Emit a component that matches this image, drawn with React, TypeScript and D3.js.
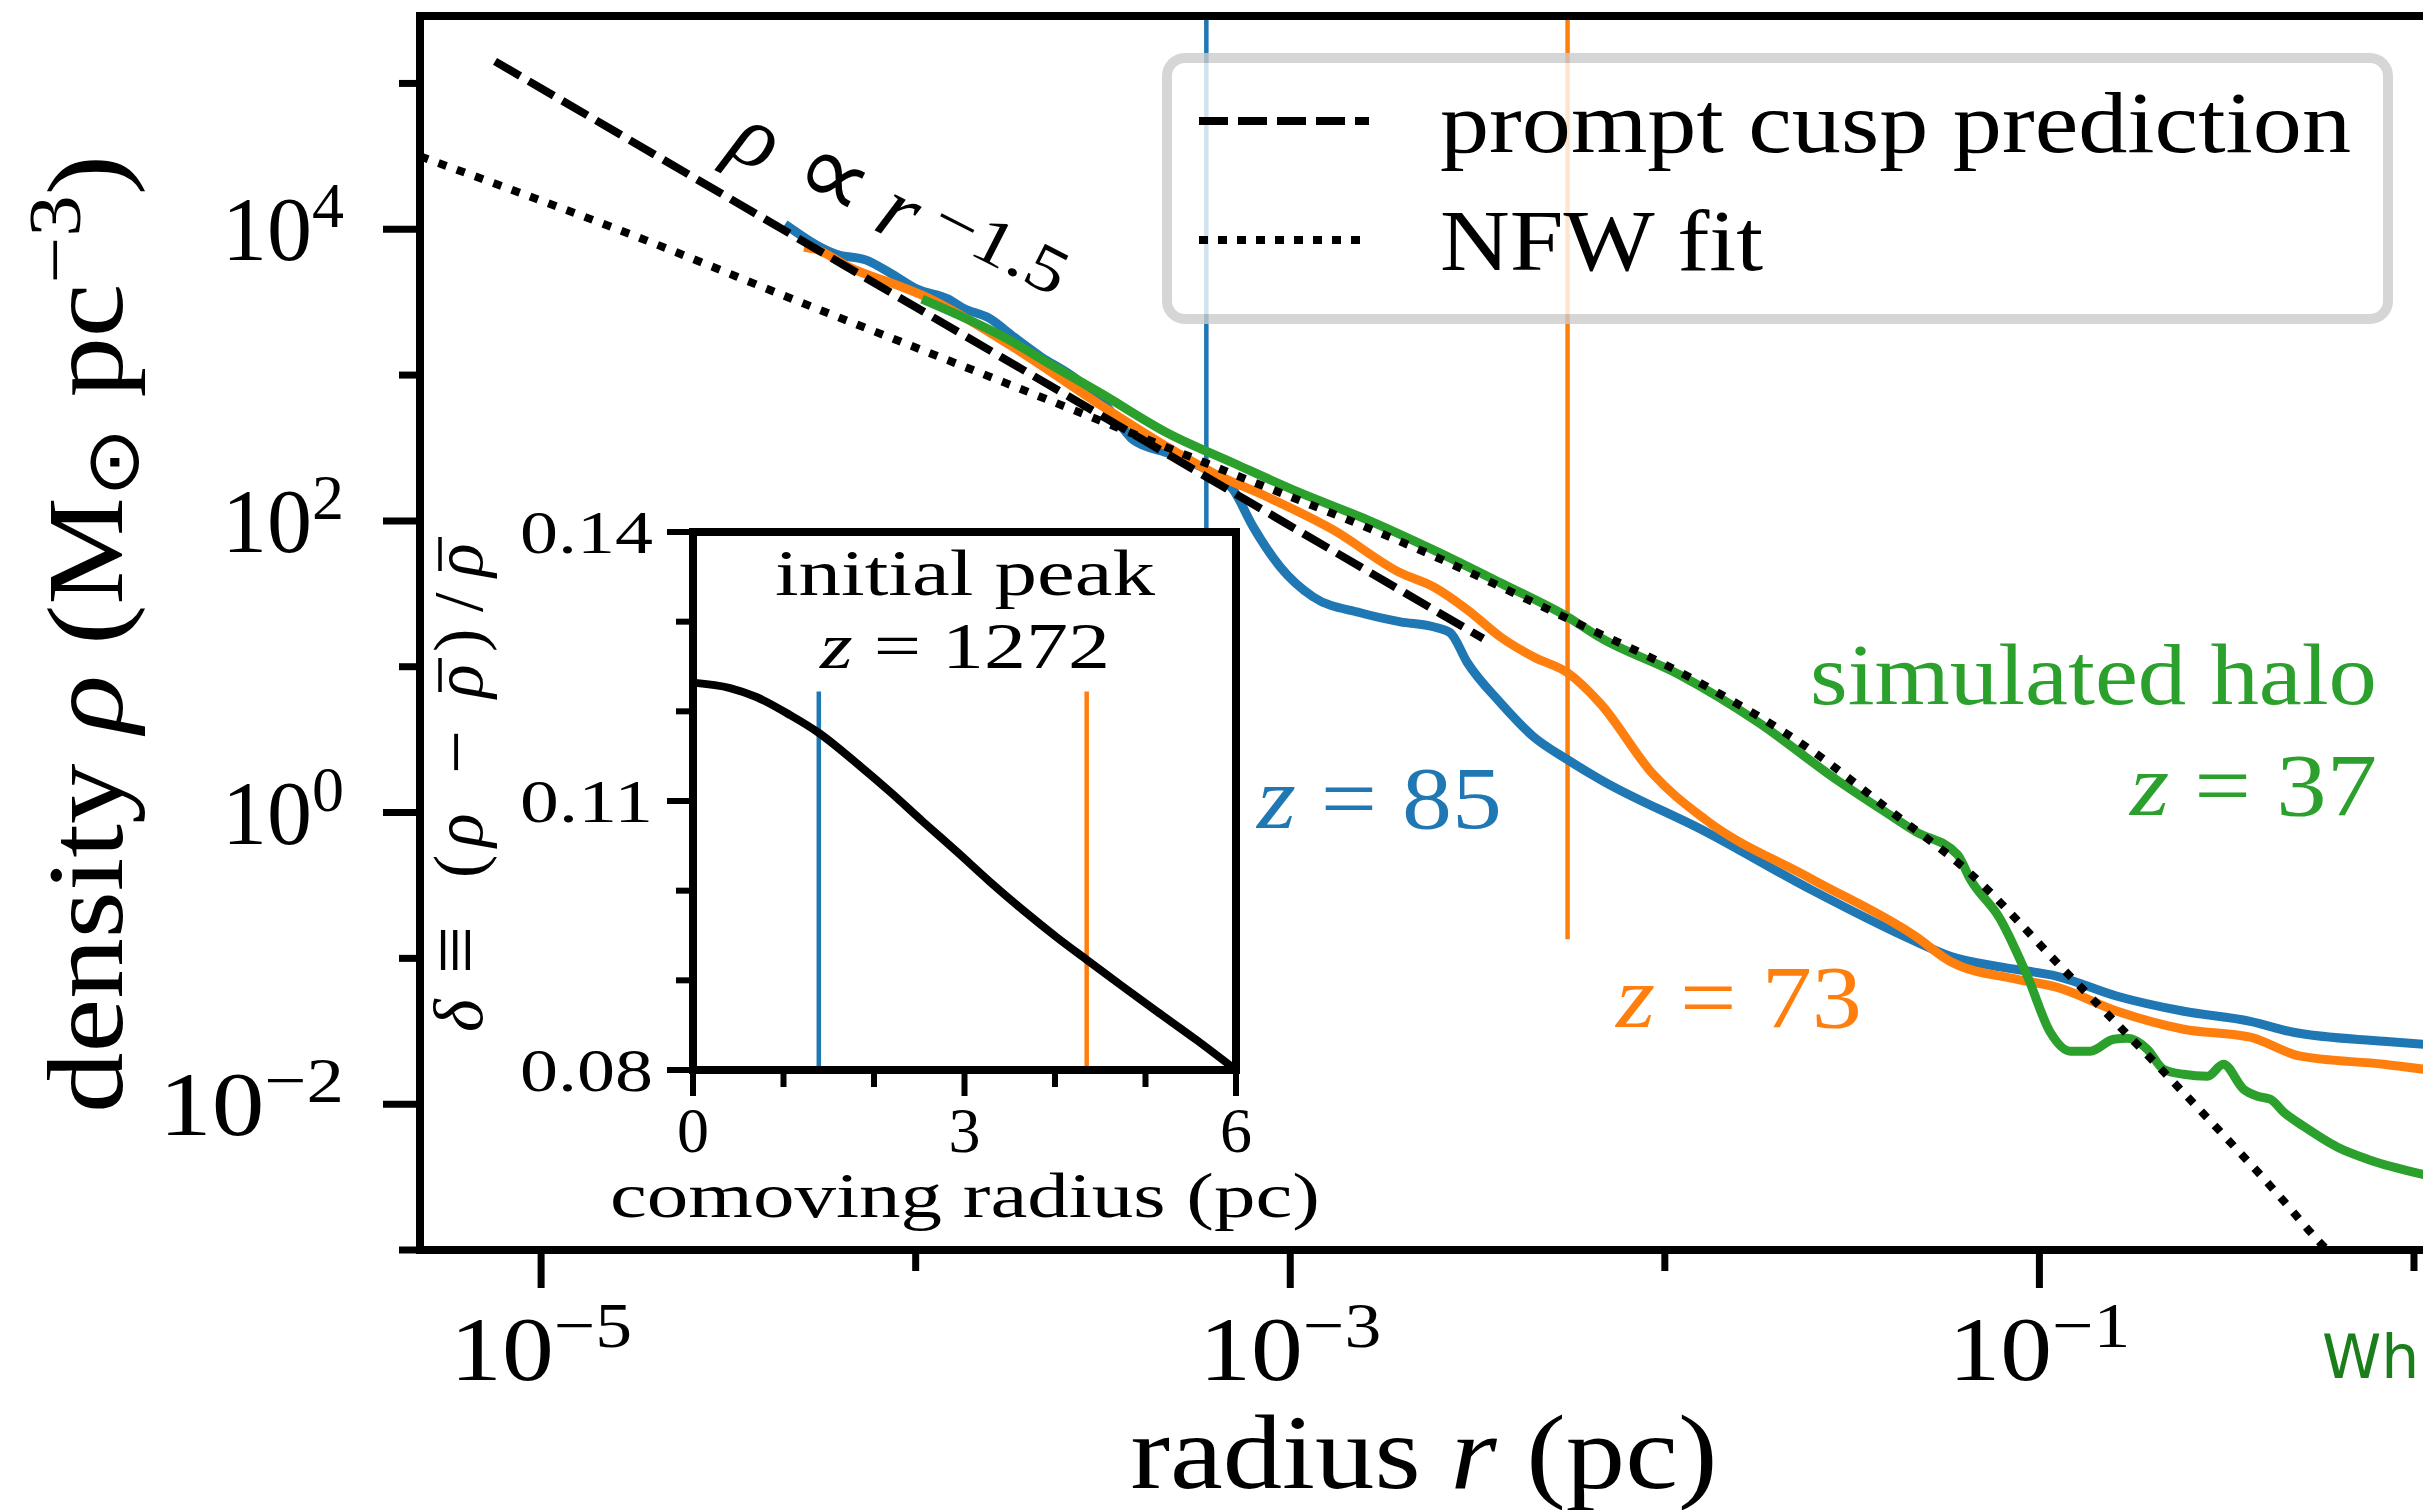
import React from "react";
import * as d3 from "d3";

const SERIF = "'Liberation Serif', 'Times New Roman', serif";
const W = 2423;
const H = 1510;

// ---------- main axes ----------
const xDomain = [4.75e-6, 1.09];
const yDomain = [1e-3, 2.9e5];
const xMajorTicks = [1e-5, 1e-3, 1e-1];
const xMajorExp = ["−5", "−3", "−1"];
const xMinorTicks = [1e-4, 1e-2, 1];
const yMajorTicks = [1e4, 1e2, 1, 1e-2];
const yMajorExp = ["4", "2", "0", "−2"];
const yMinorTicks = [1e5, 1e3, 10, 1e-1, 1e-3];

// prompt cusp prediction (rho ∝ r^-1.5), log10 values
const promptLogR = [-5.123, -2.485];
const promptLogRho = [5.151, 1.193];

// NFW fit, log10 values
const nfwLogR = [-5.323, -4.736, -4.308, -3.764, -3.219, -2.618, -2.26, -1.892, -1.611, -1.387, -1.192, -0.936, -0.642, -0.357, -0.255, -0.232];
const nfwLogRho = [4.5, 3.94, 3.5, 2.95, 2.39, 1.76, 1.33, 0.87, 0.43, -0.01, -0.4, -1.075, -1.849, -2.637, -2.938, -3.0];

// z = 85 (blue), log10 values
const z85LogR = [-4.349, -4.212, -4.132, -4.063, -3.996, -3.913, -3.873, -3.804, -3.737, -3.668, -3.571, -3.491, -3.419, -3.328, -3.222, -3.152, -3.099, -3.027, -2.939, -2.813, -2.706, -2.618, -2.573, -2.527, -2.439, -2.351, -2.26, -2.172, -1.892, -1.611, -1.331, -1.238, -1.096, -0.952, -0.792, -0.615, -0.437, -0.322, -0.081, 0.04];
const z85LogRho = [4.034, 3.829, 3.788, 3.692, 3.589, 3.521, 3.459, 3.39, 3.26, 3.13, 2.973, 2.788, 2.555, 2.466, 2.349, 2.212, 1.959, 1.685, 1.479, 1.37, 1.308, 1.274, 1.233, 1.027, 0.753, 0.521, 0.363, 0.226, -0.13, -0.527, -0.884, -0.986, -1.062, -1.123, -1.26, -1.363, -1.432, -1.507, -1.568, -1.592];

// z = 73 (orange), log10 values
const z73LogR = [-4.298, -4.268, -4.172, -4.036, -3.983, -3.748, -3.507, -3.328, -3.206, -3.061, -2.885, -2.706, -2.618, -2.527, -2.439, -2.351, -2.26, -2.172, -2.033, -1.892, -1.611, -1.331, -1.238, -1.059, -0.952, -0.792, -0.615, -0.437, -0.303, -0.081, 0.04];
const z73LogRho = [3.877, 3.863, 3.733, 3.603, 3.548, 3.205, 2.795, 2.507, 2.329, 2.164, 1.938, 1.644, 1.548, 1.39, 1.205, 1.068, 0.959, 0.747, 0.267, -0.048, -0.452, -0.849, -1.021, -1.144, -1.199, -1.363, -1.486, -1.541, -1.671, -1.726, -1.765];

// z = 37 (green, simulated halo), log10 values
const z37LogR = [-3.983, -3.764, -3.628, -3.507, -3.328, -3.152, -2.973, -2.794, -2.618, -2.439, -2.26, -2.172, -1.961, -1.753, -1.542, -1.401, -1.331, -1.219, -1.184, -1.104, -1.032, -0.971, -0.917, -0.864, -0.802, -0.765, -0.712, -0.669, -0.615, -0.551, -0.509, -0.455, -0.418, -0.383, -0.348, -0.295, -0.204, -0.124, 0.04];
const z37LogRho = [3.521, 3.26, 3.055, 2.877, 2.603, 2.397, 2.192, 2.007, 1.801, 1.575, 1.342, 1.199, 0.945, 0.623, 0.226, -0.014, -0.13, -0.288, -0.459, -0.733, -1.123, -1.507, -1.637, -1.637, -1.555, -1.548, -1.623, -1.76, -1.795, -1.808, -1.726, -1.897, -1.945, -1.966, -2.055, -2.151, -2.295, -2.377, -2.49];

// vertical marker radii (blue, orange)
const markerR = [5.97e-4, 5.5e-3];
const markerRhoBottom = 0.135;

// ---------- inset ----------
const insetXDomain = [0, 6];
const insetYDomain = [0.08, 0.14];
const insetR = [0, 0.41, 0.7, 1.07, 1.39, 1.81, 2.18, 2.54, 2.92, 3.28, 3.65, 4.02, 4.35, 4.75, 5.13, 5.57, 6.0];
const insetDelta = [0.1232, 0.1226, 0.1216, 0.1196, 0.1176, 0.1142, 0.111, 0.1077, 0.1043, 0.101, 0.0978, 0.0948, 0.0923, 0.0893, 0.0865, 0.0833, 0.08];
const insetMarkerR = [1.39, 4.35];
const insetMarkerTop = 0.1222;
const insetMajorX = [0, 3, 6];
const insetMinorX = [1, 2, 4, 5];
const insetMajorY = [0.08, 0.11, 0.14];
const insetMinorY = [0.09, 0.1, 0.12, 0.13];

const BLUE = "#1f77b4";
const ORANGE = "#ff7f0e";
const GREEN = "#2ca02c";

const zip = (a: number[], b: number[]) => a.map((v, i) => [v, b[i]]);

export default function App() {
  const x = d3.scaleLog().domain(xDomain).range([420, 2428]);
  const y = d3.scaleLog().domain(yDomain).range([1250, 16]);
  const logLine = d3
    .line<number[]>()
    .x((d) => x(10 ** d[0]))
    .y((d) => y(10 ** d[1]))
    .curve(d3.curveMonotoneX);
  const straight = d3
    .line<number[]>()
    .x((d) => x(10 ** d[0]))
    .y((d) => y(10 ** d[1]));

  const xi = d3.scaleLinear().domain(insetXDomain).range([693, 1236]);
  const yi = d3.scaleLinear().domain(insetYDomain).range([1070, 532]);
  const insetLine = d3
    .line<number[]>()
    .x((d) => xi(d[0]))
    .y((d) => yi(d[1]))
    .curve(d3.curveMonotoneX);

  const [x0, x1] = x.range();
  const [y0, y1] = y.range();
  const SG = "spacingAndGlyphs";

  return (
    <div style={{ position: "fixed", left: 0, top: 0, width: W, height: H, background: "white" }}>
      <svg width={W} height={H} viewBox={`0 0 ${W} ${H}`} style={{ display: "block" }} fontFamily={SERIF}>
        <defs>
          <clipPath id="plotClip">
            <rect x={x0} y={y1} width={x1 - x0} height={y0 - y1} />
          </clipPath>
        </defs>
        <rect x={0} y={0} width={W} height={H} fill="white" />

        <g clipPath="url(#plotClip)">
          {markerR.map((r, i) => (
            <line
              key={i}
              x1={x(r)}
              x2={x(r)}
              y1={y(yDomain[1])}
              y2={y(markerRhoBottom)}
              stroke={i === 0 ? BLUE : ORANGE}
              strokeWidth={4.5}
            />
          ))}
          <path d={logLine(zip(z85LogR, z85LogRho)) || ""} fill="none" stroke={BLUE} strokeWidth={9} strokeLinejoin="round" />
          <path d={logLine(zip(z73LogR, z73LogRho)) || ""} fill="none" stroke={ORANGE} strokeWidth={9} strokeLinejoin="round" />
          <path d={logLine(zip(z37LogR, z37LogRho)) || ""} fill="none" stroke={GREEN} strokeWidth={9} strokeLinejoin="round" />
          <path d={straight(zip(promptLogR, promptLogRho)) || ""} fill="none" stroke="black" strokeWidth={8} strokeDasharray="29,10" />
          <path d={logLine(zip(nfwLogR, nfwLogRho)) || ""} fill="none" stroke="black" strokeWidth={8} strokeDasharray="8.5,11" />
        </g>

        {/* frame */}
        <rect x={x0} y={y1} width={x1 - x0} height={y0 - y1} fill="none" stroke="black" strokeWidth={8} />

        {/* y ticks */}
        {yMajorTicks.map((v, i) => (
          <g key={"ym" + i}>
            <line x1={x0 - 37} x2={x0} y1={y(v)} y2={y(v)} stroke="black" strokeWidth={7} />
            <text
              x={344}
              y={y(v) + 31}
              textAnchor="end"
              fontSize={90}
              textLength={yMajorExp[i].length > 1 ? 185 : 122}
              lengthAdjust={SG}
            >
              10<tspan dy={-33} fontSize={64}>{yMajorExp[i]}</tspan>
            </text>
          </g>
        ))}
        {yMinorTicks.map((v, i) => (
          <line key={"yn" + i} x1={x0 - 21} x2={x0} y1={y(v)} y2={y(v)} stroke="black" strokeWidth={7} />
        ))}
        {/* x ticks */}
        {xMajorTicks.map((v, i) => (
          <g key={"xm" + i}>
            <line x1={x(v)} x2={x(v)} y1={y0} y2={y0 + 38} stroke="black" strokeWidth={7} />
            <text x={x(v)} y={1380} textAnchor="middle" fontSize={90} textLength={182} lengthAdjust={SG}>
              10<tspan dy={-33} fontSize={64}>{xMajorExp[i]}</tspan>
            </text>
          </g>
        ))}
        {xMinorTicks.map((v, i) => (
          <line key={"xn" + i} x1={x(v)} x2={x(v)} y1={y0} y2={y0 + 21} stroke="black" strokeWidth={7} />
        ))}

        {/* axis labels */}
        <text x={1424} y={1488} textAnchor="middle" fontSize={106} textLength={587} lengthAdjust={SG}>
          radius <tspan fontStyle="italic">r</tspan> (pc)
        </text>
        <text transform="translate(122,634) rotate(-90)" textAnchor="middle" fontSize={108} textLength={958} lengthAdjust={SG}>
          density <tspan fontStyle="italic">ρ</tspan> (M<tspan dy={16} fontSize={74}>⊙</tspan>
          <tspan dy={-16}> pc</tspan>
          <tspan dy={-42} fontSize={74}>−3</tspan>
          <tspan dy={42}>)</tspan>
        </text>

        {/* rho ∝ r^-1.5 annotation */}
        <g transform="translate(725,154) rotate(27)">
          <text x={0} y={0} fontSize={90} fontStyle="italic">ρ</text>
          <text x={70} y={4} fontSize={104}>∝</text>
          <text x={164} y={0} fontSize={90} fontStyle="italic">r</text>
          <text x={216} y={-22} fontSize={66} textLength={143} lengthAdjust={SG}>−1.5</text>
        </g>

        {/* curve labels */}
        <text x={1257} y={828} fill={BLUE} fontSize={88} textLength={245} lengthAdjust={SG}>
          <tspan fontStyle="italic">z</tspan> = 85
        </text>
        <text x={1616} y={1027} fill={ORANGE} fontSize={88} textLength={246} lengthAdjust={SG}>
          <tspan fontStyle="italic">z</tspan> = 73
        </text>
        <text x={2377} y={704} fill={GREEN} fontSize={86} textAnchor="end" textLength={567} lengthAdjust={SG}>
          simulated halo
        </text>
        <text x={2377} y={815} fill={GREEN} fontSize={88} textAnchor="end" textLength={247} lengthAdjust={SG}>
          <tspan fontStyle="italic">z</tspan> = 37
        </text>

        {/* legend */}
        <rect x={1167} y={58} width={1221} height={261} rx={18} fill="white" stroke="#cccccc" strokeWidth={10} opacity={0.8} />
        <line x1={1199} x2={1369} y1={121} y2={121} stroke="black" strokeWidth={8} strokeDasharray="29,10" />
        <line x1={1199} x2={1365} y1={240} y2={240} stroke="black" strokeWidth={8} strokeDasharray="9,10" />
        <text x={1440} y={152} fontSize={87} textLength={911} lengthAdjust={SG}>
          prompt cusp prediction
        </text>
        <text x={1440} y={270} fontSize={87} textLength={323} lengthAdjust={SG}>
          NFW fit
        </text>

        {/* inset */}
        <g>
          <rect x={xi(0)} y={yi(0.14)} width={xi(6) - xi(0)} height={yi(0.08) - yi(0.14)} fill="white" />
          {insetMarkerR.map((r, i) => (
            <line
              key={"im" + i}
              x1={xi(r)}
              x2={xi(r)}
              y1={yi(insetMarkerTop)}
              y2={yi(0.08)}
              stroke={i === 0 ? BLUE : ORANGE}
              strokeWidth={4.5}
            />
          ))}
          <path d={insetLine(zip(insetR, insetDelta)) || ""} fill="none" stroke="black" strokeWidth={8} />
          <rect x={xi(0)} y={yi(0.14)} width={xi(6) - xi(0)} height={yi(0.08) - yi(0.14)} fill="none" stroke="black" strokeWidth={8} />
          {insetMajorY.map((v, i) => (
            <g key={"iym" + i}>
              <line x1={xi(0) - 26} x2={xi(0)} y1={yi(v)} y2={yi(v)} stroke="black" strokeWidth={6} />
              <text x={653} y={yi(v) + 21} textAnchor="end" fontSize={62} textLength={133} lengthAdjust={SG}>
                {v.toFixed(2)}
              </text>
            </g>
          ))}
          {insetMinorY.map((v, i) => (
            <line key={"iyn" + i} x1={xi(0) - 17} x2={xi(0)} y1={yi(v)} y2={yi(v)} stroke="black" strokeWidth={6} />
          ))}
          {insetMajorX.map((v, i) => (
            <g key={"ixm" + i}>
              <line x1={xi(v)} x2={xi(v)} y1={yi(0.08)} y2={yi(0.08) + 26} stroke="black" strokeWidth={6} />
              <text x={xi(v)} y={1152} textAnchor="middle" fontSize={64}>
                {v}
              </text>
            </g>
          ))}
          {insetMinorX.map((v, i) => (
            <line key={"ixn" + i} x1={xi(v)} x2={xi(v)} y1={yi(0.08)} y2={yi(0.08) + 17} stroke="black" strokeWidth={6} />
          ))}
          <text x={965} y={1217} textAnchor="middle" fontSize={64} textLength={710} lengthAdjust={SG}>
            comoving radius (pc)
          </text>
          <text x={965} y={595} textAnchor="middle" fontSize={66} textLength={380} lengthAdjust={SG}>
            initial peak
          </text>
          <text x={965} y={668} textAnchor="middle" fontSize={66} textLength={290} lengthAdjust={SG}>
            <tspan fontStyle="italic">z</tspan> = 1272
          </text>
          {/* δ ≡ (ρ − ρ̄)/ρ̄ */}
          <g transform="translate(482,1032) rotate(-90)" fontSize={70}>
            <text x={0} y={0} fontStyle="italic">δ</text>
            <text x={58} y={2} fontSize={86}>≡</text>
            <text x={154} y={0}>(</text>
            <text x={185} y={0} fontStyle="italic">ρ</text>
            <text x={258} y={0} fontSize={78}>−</text>
            <text x={334} y={0} fontStyle="italic">ρ</text>
            <line x1={340} x2={374} y1={-42} y2={-42} stroke="black" strokeWidth={3.5} />
            <text x={380} y={0}>)</text>
            <text x={420} y={0}>/</text>
            <text x={455} y={0} fontStyle="italic">ρ</text>
            <line x1={461} x2={495} y1={-42} y2={-42} stroke="black" strokeWidth={3.5} />
          </g>
        </g>

        {/* cropped watermark text */}
        <text x={2322} y={1378} fontFamily="'DejaVu Sans', sans-serif" fontSize={60} fill="#1a7f1a">
          Wh
        </text>
      </svg>
    </div>
  );
}
